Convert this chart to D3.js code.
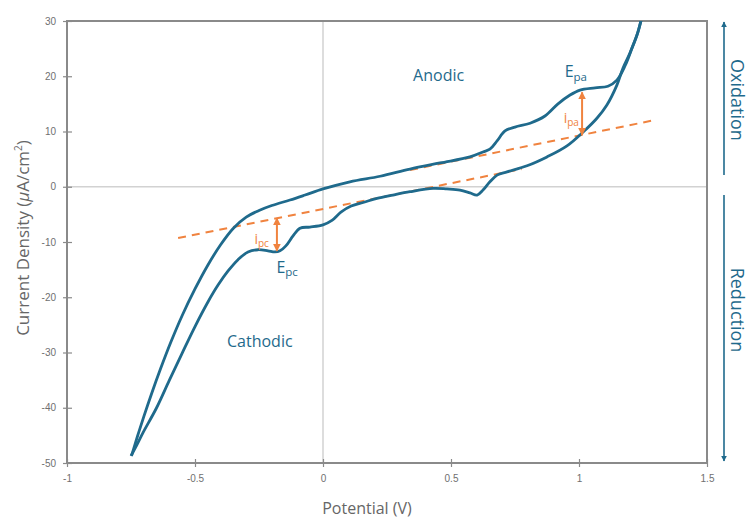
<!DOCTYPE html>
<html>
<head>
<meta charset="utf-8">
<script src="https://cdn.jsdelivr.net/npm/d3@7"></script>
<style>
	body { margin: 0; background: #fff; }
	.tick text { font-family: "Liberation Sans", Arial, sans-serif; font-size: 10px; fill: #707070; }
</style>
</head>
<body>
<svg id="chart" width="749" height="519"></svg>
<script>

// potential (V), current density (uA/cm2)

var forwardScan = [
	[-0.748,-48.7],[-0.725,-45.2],[-0.700,-41.6],[-0.670,-37.5],[-0.635,-33.0],
	[-0.595,-28.2],[-0.550,-23.3],[-0.500,-18.5],[-0.450,-14.2],[-0.400,-10.5],
	[-0.350,-7.5],[-0.300,-5.5],[-0.250,-4.3],[-0.200,-3.4],[-0.129,-2.4],
	[-0.070,-1.5],[0.0,-0.4],[0.105,0.9],[0.223,1.9],[0.340,3.2],[0.457,4.3],
	[0.574,5.4],[0.625,6.3],[0.652,6.8],[0.680,8.3],[0.711,10.1],[0.750,10.8],
	[0.809,11.5],[0.867,12.8],[0.918,15.0],[0.965,16.6],[1.004,17.5],[1.063,17.9],
	[1.113,18.2],[1.148,19.3],[1.180,21.9],[1.207,25.1],[1.230,28.0],[1.245,30.6]
];

var reverseScan = [
	[1.245,30.6],[1.227,27.5],[1.199,24.2],[1.172,21.5],[1.148,18.4],[1.109,14.8],
	[1.070,12.4],[1.016,9.9],[0.953,7.4],[0.875,5.4],[0.797,3.8],[0.719,2.7],
	[0.680,2.1],[0.652,0.9],[0.625,-0.6],[0.602,-1.5],[0.574,-1.1],[0.535,-0.6],
	[0.484,-0.4],[0.430,-0.3],[0.340,-0.9],[0.273,-1.5],[0.211,-2.1],[0.160,-2.8],
	[0.110,-3.5],[0.070,-4.6],[0.035,-6.1],[0.0,-6.9],[-0.051,-7.3],[-0.090,-7.5],
	[-0.117,-8.9],[-0.145,-10.7],[-0.168,-11.6],[-0.188,-11.8],[-0.215,-11.6],
	[-0.254,-11.4],[-0.293,-11.8],[-0.332,-13.2],[-0.370,-15.2],[-0.410,-17.8],
	[-0.450,-20.9],[-0.500,-25.3],[-0.550,-30.1],[-0.600,-35.0],[-0.650,-40.0],
	[-0.703,-44.5],[-0.728,-46.8],[-0.750,-48.7]
];

var cathodicBaseline = [[-0.566,-9.28],[0.777,3.21]];
var anodicBaseline = [[0.340,3.03],[1.297,12.08]];

// peak potential, peak current
var cathodicPeak = [-0.180,-11.6];
var anodicPeak = [1.012,17.1];

var xTicks = [-1,-0.5,0,0.5,1,1.5];
var yTicks = [-50,-40,-30,-20,-10,0,10,20,30];

var blue = "#1f6a8c",
		orange = "#f0833f",
		textFont = "'Open Sans', 'Noto Sans', sans-serif";

var svg = d3.select("#chart");

var x = d3.scaleLinear().domain([-1,1.5]).range([67,707]);
var y = d3.scaleLinear().domain([-50,30]).range([463,21]);

function baselineAt(line, v) {
	var a = line[0], b = line[1];
	return a[1] + (v-a[0])*(b[1]-a[1])/(b[0]-a[0]);
}

var defs = svg.append("defs");

defs.append("clipPath").attr("id","clip")
	.append("rect")
		.attr("x",x.range()[0]).attr("y",y.range()[1])
		.attr("width",x.range()[1]-x.range()[0])
		.attr("height",y.range()[0]-y.range()[1]);

function arrowMarker(id, color, w, h) {
	defs.append("marker")
		.attr("id",id)
		.attr("viewBox","0 0 10 10")
		.attr("refX",9).attr("refY",5)
		.attr("markerUnits","userSpaceOnUse")
		.attr("markerWidth",w).attr("markerHeight",h)
		.attr("orient","auto-start-reverse")
		.append("path")
			.attr("d","M0,0L10,5L0,10Z")
			.attr("fill",color);
}
arrowMarker("head-orange", orange, 8, 9);
arrowMarker("head-blue", blue, 6, 7);

// zero lines
svg.append("line")
	.attr("x1",x(0)).attr("x2",x(0))
	.attr("y1",y(30)).attr("y2",y(-50))
	.attr("stroke","#d2d2d2").attr("stroke-width",1.5);
svg.append("line")
	.attr("x1",x(-1)).attr("x2",x(1.5))
	.attr("y1",y(0)).attr("y2",y(0))
	.attr("stroke","#d2d2d2").attr("stroke-width",1.5);

// axes
var yAxis = svg.append("g")
	.attr("transform","translate("+x(-1)+",0)")
	.call(d3.axisLeft(y).tickValues(yTicks).tickSize(4).tickPadding(7)
		.tickFormat(function(d) { return String(d); }));
var xAxis = svg.append("g")
	.attr("transform","translate(0,"+y(-50)+")")
	.call(d3.axisBottom(x).tickValues(xTicks).tickSize(4).tickPadding(8)
		.tickFormat(function(d) { return String(d); }));

[xAxis, yAxis].forEach(function(g) {
	g.select(".domain").remove();
	g.selectAll(".tick line").attr("stroke","#8a8a8a").attr("stroke-width",1.2);
});
yAxis.selectAll(".tick line").attr("x1",5).attr("x2",-4);
xAxis.selectAll(".tick line").attr("y1",-4).attr("y2",4);

svg.append("rect")
	.attr("x",x(-1)).attr("y",y(30))
	.attr("width",x(1.5)-x(-1)).attr("height",y(-50)-y(30))
	.attr("fill","none").attr("stroke","#8a8a8a").attr("stroke-width",2);

// baselines
var straight = d3.line()
	.x(function(d) { return x(d[0]); })
	.y(function(d) { return y(d[1]); });

svg.selectAll(".baseline")
	.data([cathodicBaseline, anodicBaseline])
	.enter()
	.append("path")
		.attr("class","baseline")
		.attr("d",straight)
		.attr("fill","none")
		.attr("stroke",orange)
		.attr("stroke-width",2)
		.attr("stroke-dasharray","8,6");

// voltammogram
var smooth = d3.line()
	.x(function(d) { return x(d[0]); })
	.y(function(d) { return y(d[1]); })
	.curve(d3.curveCatmullRom.alpha(0.5));

svg.selectAll(".scan")
	.data([forwardScan, reverseScan])
	.enter()
	.append("path")
		.attr("class","scan")
		.attr("clip-path","url(#clip)")
		.attr("d",smooth)
		.attr("fill","none")
		.attr("stroke",blue)
		.attr("stroke-width",2.8)
		.attr("stroke-linejoin","round");

// peak current arrows
svg.selectAll(".peak-arrow")
	.data([
		{ v: cathodicPeak[0], from: baselineAt(cathodicBaseline, cathodicPeak[0]), to: cathodicPeak[1] },
		{ v: anodicPeak[0], from: baselineAt(anodicBaseline, anodicPeak[0]), to: anodicPeak[1] }
	])
	.enter()
	.append("line")
		.attr("class","peak-arrow")
		.attr("x1",function(d) { return x(d.v); })
		.attr("x2",function(d) { return x(d.v); })
		.attr("y1",function(d) { return y(d.from); })
		.attr("y2",function(d) { return y(d.to); })
		.attr("stroke",orange)
		.attr("stroke-width",2)
		.attr("marker-start","url(#head-orange)")
		.attr("marker-end","url(#head-orange)");

// labels
function label(px, py, main, sub, size, color) {
	var t = svg.append("text")
		.attr("x",px).attr("y",py)
		.attr("font-family",textFont)
		.attr("font-size",size)
		.attr("fill",color)
		.text(main);
	if (sub) {
		t.append("tspan")
			.attr("font-size",size*0.72)
			.attr("dy",size*0.22)
			.text(sub);
	}
	return t;
}

label(x(0.352), y(19.1), "Anodic", null, 16, blue);
label(x(-0.375), y(-29.0), "Cathodic", null, 16, blue);
label(x(-0.182), y(-15.6), "E", "pc", 16, blue);
label(x(0.944), y(19.8), "E", "pa", 16, blue);
label(x(-0.268), y(-10.3), "i", "pc", 14, orange);
label(x(0.940), y(11.5), "i", "pa", 14, orange);

// axis titles
var yTitle = svg.append("text")
	.attr("transform","translate(29,238) rotate(-90)")
	.attr("text-anchor","middle")
	.attr("font-family",textFont)
	.attr("font-size",17)
	.attr("fill","#666");
yTitle.append("tspan").text("Current Density (");
yTitle.append("tspan").attr("font-style","italic").text("\u03bc");
yTitle.append("tspan").text("A/cm");
yTitle.append("tspan").attr("font-size",10).attr("dy",-7).text("2");
yTitle.append("tspan").attr("dy",7).text(")");

svg.append("text")
	.attr("x",367).attr("y",514)
	.attr("text-anchor","middle")
	.attr("font-family",textFont)
	.attr("font-size",16)
	.attr("fill","#666")
	.text("Potential (V)");

// oxidation / reduction direction arrows
svg.append("line")
	.attr("x1",724).attr("x2",724)
	.attr("y1",175).attr("y2",22)
	.attr("stroke",blue).attr("stroke-width",1.6)
	.attr("marker-end","url(#head-blue)");
svg.append("line")
	.attr("x1",724).attr("x2",724)
	.attr("y1",195).attr("y2",461)
	.attr("stroke",blue).attr("stroke-width",1.6)
	.attr("marker-end","url(#head-blue)");

[["Oxidation",100],["Reduction",310]].forEach(function(d) {
	svg.append("text")
		.attr("transform","translate(731,"+d[1]+") rotate(90)")
		.attr("text-anchor","middle")
		.attr("font-family",textFont)
		.attr("font-size",18)
		.attr("fill",blue)
		.text(d[0]);
});

</script>
</body>
</html>
